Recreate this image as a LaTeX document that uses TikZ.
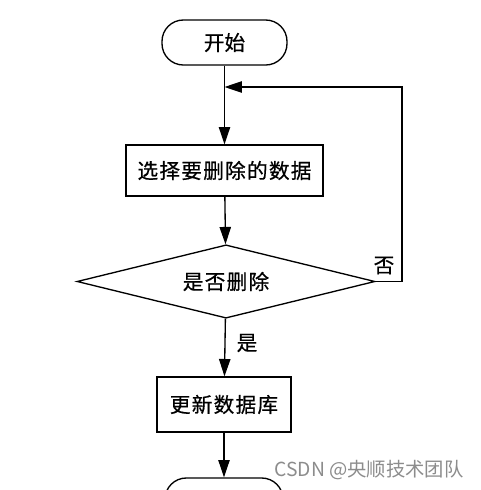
\documentclass[tikz,border=0pt]{standalone}
\usepackage{fontspec}
\setmainfont{Noto Sans CJK SC}[FakeBold=0.6]
\newfontfamily\wmfont{Noto Sans CJK SC}
\usetikzlibrary{shapes.geometric,arrows.meta}
\begin{document}
\begin{tikzpicture}[x=0.75pt,y=-0.75pt,
  every node/.style={font=\fontsize{15.5}{18}\selectfont, inner sep=0pt},
  term/.style={draw, line width=1pt, rectangle, rounded corners=16pt, minimum width=93.75pt, minimum height=33.75pt},
  proc/.style={draw, line width=1pt, rectangle},
  dec/.style={draw, line width=1pt, diamond, aspect=4, minimum width=223.5pt, minimum height=55pt},
  conn/.style={line width=1pt, -{Triangle[length=13pt,width=8.5pt]}},
  lbl/.style={font=\fontsize{15.5}{18}\selectfont}]
\useasboundingbox (0,0) rectangle (480,490);
\clip (0,0) rectangle (480,490);
\node[term] (start) at (224.5,42.5) {开始};
\node[proc, minimum width=147.75pt, minimum height=38.25pt] (sel) at (224.5,170.5) {\addfontfeatures{LetterSpace=6}选择要删除的数据};
\node[dec] (q) at (226,281.5) {\addfontfeatures{LetterSpace=6}是否删除};
\node[proc, minimum width=100.5pt, minimum height=41.25pt] (upd) at (224,404.5) {\addfontfeatures{LetterSpace=6}更新数据库};
\node[term, minimum width=88.5pt] (end) at (224,500.5) {结束};
\coordinate (j) at (start.south |- 0,87);
\coordinate (c1) at (402,0 |- q.east);
\coordinate (c2) at (402,87);
\draw[conn] (start) -- (sel);
\draw[conn] (sel) -- (q);
\draw[conn] (q) -- (upd);
\draw[conn] (upd) -- (end);
\draw[conn] (q.east) -- (c1) -- (c2) -- (j);
\node[lbl] (yes) at (247,343) {是};
\node[lbl] (no) at (384,265.5) {否};
\node[font=\wmfont\fontsize{14.5}{17}\selectfont, text=black!45] (wm) at (369,470) {CSDN @央顺技术团队};
\end{tikzpicture}
\end{document}
